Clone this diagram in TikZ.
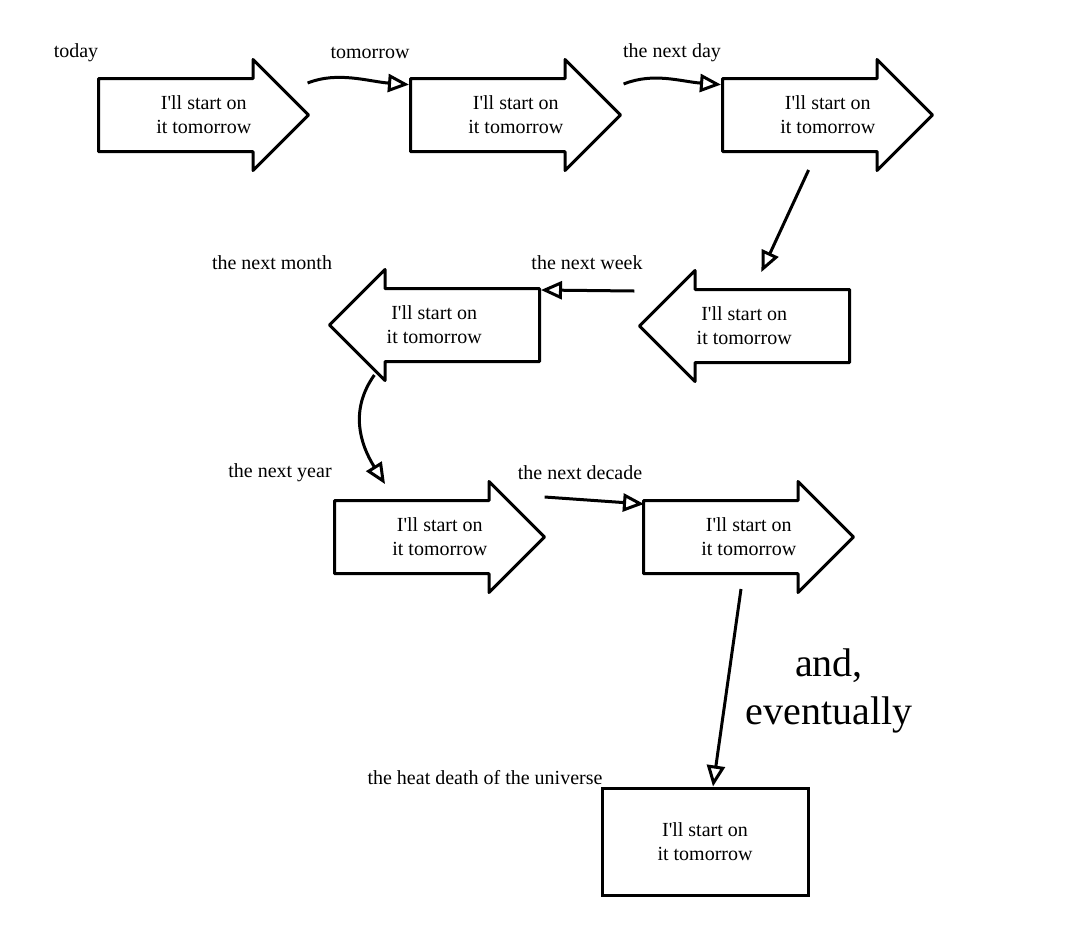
\documentclass[tikz,border=0pt]{standalone}
\usepackage{fontspec}
\setmainfont{Liberation Serif}[Ligatures=TeXOff]
\usetikzlibrary{shapes.arrows,arrows.meta,calc}

\begin{document}
\begin{tikzpicture}[x=1pt, y=-1pt,
		every node/.style = {font=\fontsize{20}{24}\selectfont, align=center},
		putoff/.style = {draw, line width=3pt, line join=round, single arrow,
			single arrow head extend=19pt, minimum height=210pt,
			inner xsep=0pt, inner ysep=35pt, anchor=tail},
		putoff left/.style = {putoff, shape border rotate=180},
		link/.style = {line width=3pt, -{Triangle[open, length=21pt, width=18pt]}},
		eventually/.style = {font=\fontsize{40}{48}\selectfont}
		]
		\useasboundingbox (0,0) rectangle (1081,938);
		\node[putoff] (today) at (97,115) {};
		\node[putoff] (tomorrow) at (409,115) {};
		\node[putoff] (nextday) at (721,115) {};
		\node[putoff left] (nextweek) at (851,326) {};
		\node[putoff left] (nextmonth) at (541,325) {};
		\node[putoff] (nextyear) at (333,537) {};
		\node[putoff] (nextdecade) at (642,537) {};
		\node[draw, line width=3pt, minimum width=206pt, minimum height=107pt] (heatdeath) at (705,841.5) {I'll start on\\it tomorrow};

		\foreach \n in {today,tomorrow,nextday,nextweek,nextmonth,nextyear,nextdecade}
			\node (\n\space text) at ($(\n.tail)!.5!(\n.tip)$) {I'll start on\\it tomorrow};

		\node (today label) at (76,53) {today};
		\node (tomorrow label) at (370,53) {tomorrow};
		\node (nextday label) at (672,53) {the next day};
		\node (nextmonth label) at (272,263) {the next month};
		\node (nextweek label) at (587,263) {the next week};
		\node (nextyear label) at (280,473) {the next year};
		\node (nextdecade label) at (580,473) {the next decade};
		\node (heatdeath label) at (485,778) {the heat death of the universe};
		\node[eventually] (eventually) at (829,691) {and,\\eventually};

		\draw[link] ($(today.tip)+(-3,-32)$) .. controls +(30,-12) and +(-40,-3) .. (tomorrow.161);
		\draw[link] ($(tomorrow.tip)+(1,-31)$) .. controls +(30,-12) and +(-40,-3) .. (nextday.161);
		\draw[link] ($(nextday.tail)!.41!(nextday.tip)+(0,55)$) -- ($(nextweek.tip)+(124,-54)$);
		\draw[link] ($(nextweek.tip)+(-3,-35)$) -- ($(nextmonth.tail)+(0,-35)$);
		\draw[link] ($(nextmonth.tip)+(47,50)$) .. controls +(-25,35) and +(-25,-40) .. ($(nextyear.tail)+(52,-53)$);
		\draw[link] ($(nextyear.tip)+(-2,-40)$) -- ($(nextdecade.tail)+(2,-33)$);
		\draw[link] ($(nextdecade.tail)+(99,52)$) -- ($(heatdeath.north)+(8,0)$);
	\end{tikzpicture}
\end{document}
